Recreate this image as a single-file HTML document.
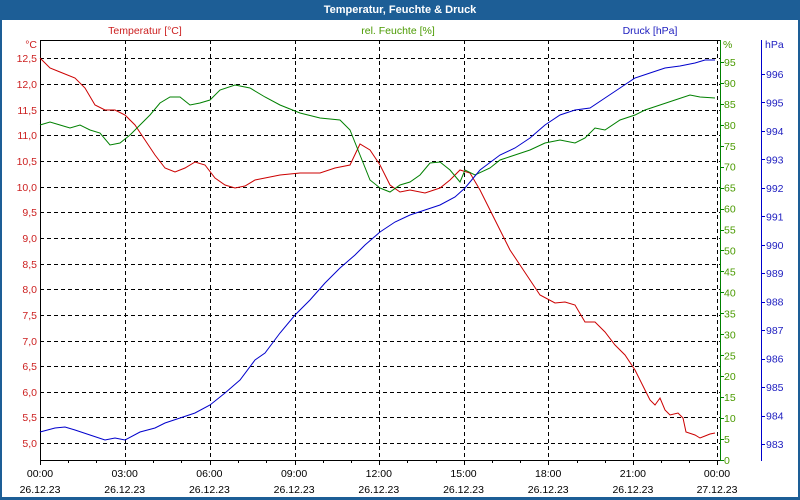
<!DOCTYPE html>
<html><head><meta charset="utf-8"><style>
body{margin:0;width:800px;height:500px;overflow:hidden;background:#fff}
svg{display:block}
text{font-family:"Liberation Sans",sans-serif;font-size:10.5px}
</style></head><body>
<svg width="800" height="500" viewBox="0 0 800 500">
<rect x="0" y="0" width="800" height="500" fill="#1d5e96"/>
<rect x="2" y="20" width="796" height="477" fill="#fff"/>
<text x="400" y="13" fill="#fff" text-anchor="middle" font-weight="bold" style="font-size:11px">Temperatur, Feuchte &amp; Druck</text>
<text x="145" y="34" fill="#cc2020" text-anchor="middle">Temperatur [°C]</text>
<text x="398" y="34" fill="#4a9a00" text-anchor="middle">rel. Feuchte [%]</text>
<text x="650" y="34" fill="#2020c0" text-anchor="middle">Druck [hPa]</text>
<g stroke="#000" stroke-width="1" stroke-dasharray="4,3" fill="none">
<path d="M40 58.5H720M40 84.5H720M40 110.5H720M40 135.5H720M40 161.5H720M40 187.5H720M40 212.5H720M40 238.5H720M40 264.5H720M40 289.5H720M40 315.5H720M40 341.5H720M40 366.5H720M40 392.5H720M40 417.5H720M40 443.5H720"/>
<path d="M125.5 40V460M210.5 40V460M295.5 40V460M379.5 40V460M464.5 40V460M548.5 40V460M633.5 40V460M717.5 40V460"/>
</g>
<g stroke="#000" fill="none">
<path d="M40.5 40V460.5H720M40 40.5H720"/>
<path d="M40.5 460v5M68.5 460v3M96.5 460v3M125.5 460v5M153.5 460v3M181.5 460v3M210.5 460v5M238.5 460v3M266.5 460v3M295.5 460v5M323.5 460v3M351.5 460v3M379.5 460v5M407.5 460v3M436.5 460v3M464.5 460v5M492.5 460v3M520.5 460v3M548.5 460v5M577.5 460v3M605.5 460v3M633.5 460v5M661.5 460v3M689.5 460v3M717.5 460v5"/>
</g>
<path d="M720.5 40V461" stroke="#008000"/>
<path d="M761.5 40V461" stroke="#0000cc"/>
<g fill="#cc2020" text-anchor="end">
<text x="37" y="48">°C</text>
<text x="37" y="62">12,5</text><text x="37" y="88">12,0</text><text x="37" y="114">11,5</text><text x="37" y="139">11,0</text><text x="37" y="165">10,5</text><text x="37" y="191">10,0</text><text x="37" y="216">9,5</text><text x="37" y="242">9,0</text><text x="37" y="268">8,5</text><text x="37" y="293">8,0</text><text x="37" y="319">7,5</text><text x="37" y="345">7,0</text><text x="37" y="370">6,5</text><text x="37" y="396">6,0</text><text x="37" y="421">5,5</text><text x="37" y="447">5,0</text>
</g>
<g fill="#4a9a00" id="hum"></g>
<g fill="#2020c0" id="prs"></g>
<g fill="#000" text-anchor="middle" id="xl"></g>
<polyline fill="none" stroke="#cc0000" stroke-width="1" points="40,58 50,68 60,72 75,78 85,88 95,105 105,110 115,110 125,115 135,125 145,140 155,155 165,168 175,172 185,168 195,162 205,165 215,178 225,185 235,188 245,186 255,180 265,178 280,175 300,173 320,173 335,168 350,165 360,144 370,150 380,165 390,185 400,192 410,190 425,193 440,188 450,180 460,170 470,173 480,190 490,210 500,230 510,250 520,265 530,280 540,295 555,303 565,302 575,305 585,322 595,322 605,332 615,345 625,355 635,370 645,390 650,400 655,405 660,398 665,410 670,415 678,413 683,418 686,432 695,435 700,438 705,436 710,434 715,433"/>
<polyline fill="none" stroke="#008000" stroke-width="1" points="40,125 50,122 60,125 70,128 80,125 90,130 100,133 110,145 120,143 130,135 140,125 150,115 160,103 170,97 180,97 190,105 200,103 210,100 220,90 235,85 250,88 265,97 280,105 300,113 320,118 340,120 350,130 360,155 370,180 380,188 390,192 400,185 410,182 420,175 430,163 440,162 450,170 460,182 465,170 475,175 490,168 500,160 515,155 530,150 545,143 560,140 575,143 585,138 595,128 605,130 620,120 635,115 645,110 660,105 675,100 690,95 700,97 715,98"/>
<polyline fill="none" stroke="#0000cc" stroke-width="1" points="40,432 55,428 65,427 75,430 90,435 105,440 115,438 125,440 140,432 155,428 165,423 180,418 195,413 210,405 225,393 240,380 255,360 265,353 280,333 295,315 310,300 325,283 340,268 355,255 365,245 380,232 395,222 410,215 425,210 440,205 455,197 465,188 480,170 500,155 515,148 530,138 545,125 560,115 575,110 590,108 605,98 620,88 635,78 650,73 665,68 680,66 695,63 705,60 715,60"/>
<path id="ticks" stroke="#000" fill="none"/>
</svg>
<script>
var ns="http://www.w3.org/2000/svg";
function t(g,x,y,s,a){var e=document.createElementNS(ns,"text");e.setAttribute("x",x);e.setAttribute("y",y);if(a)e.setAttribute("text-anchor",a);e.textContent=s;document.getElementById(g).appendChild(e);}
var svg=document.querySelector("svg");
function ln(x1,y1,x2,y2,c){var e=document.createElementNS(ns,"line");e.setAttribute("x1",x1);e.setAttribute("y1",y1);e.setAttribute("x2",x2);e.setAttribute("y2",y2);e.setAttribute("stroke",c);svg.appendChild(e);}
t("hum",723,48,"%");
for(var v=0;v<=95;v+=5){var y=460-v*4.19;t("hum",724,y+4,String(v));ln(720,Math.round(y)+.5,724,Math.round(y)+.5,"#008000");}
t("prs",765,48,"hPa");
for(var p=983;p<=996;p++){var y=444-(p-983)*28.46;t("prs",766,y+4,String(p));ln(761,Math.round(y)+.5,765,Math.round(y)+.5,"#0000cc");}
var hrs=["00:00","03:00","06:00","09:00","12:00","15:00","18:00","21:00","00:00"];
for(var i=0;i<9;i++){var x=40+i*84.7;if(i==8)x=717;t("xl",x,477,hrs[i]);t("xl",x,493,i==8?"27.12.23":"26.12.23");}
</script>
</body></html>
